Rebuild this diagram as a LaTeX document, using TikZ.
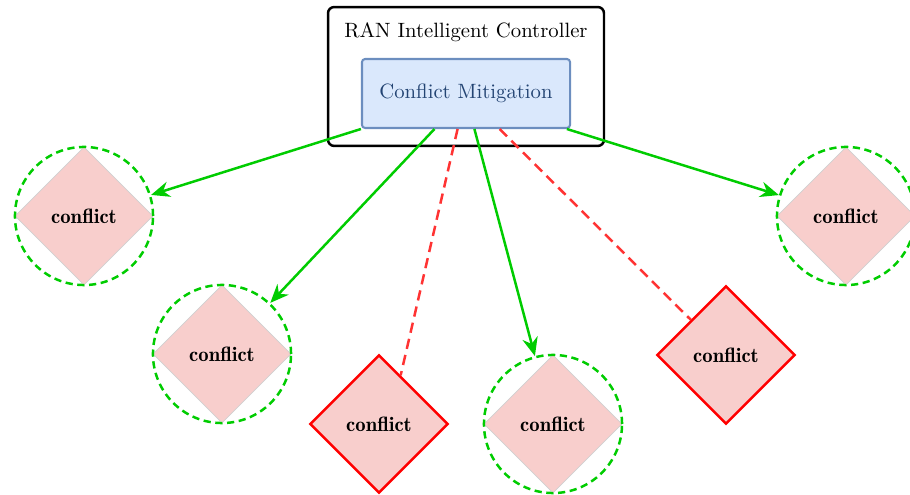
\documentclass[tikz,border=0pt]{standalone}
\usetikzlibrary{shapes.geometric,arrows.meta,calc}
\definecolor{okgreen}{RGB}{0,204,0}
\definecolor{linkred}{RGB}{255,51,51}
\definecolor{alertred}{RGB}{255,0,0}
\definecolor{pinkfill}{RGB}{248,206,204}
\definecolor{bluefill}{RGB}{218,232,252}
\definecolor{blueline}{RGB}{108,142,191}
\definecolor{bluetext}{RGB}{35,68,115}

\begin{document}
\begin{tikzpicture}[x=0.483pt,y=-0.483pt,
  conflictbox/.style={diamond, fill=pinkfill, minimum width=66.7pt, minimum height=66.7pt,
    inner sep=0pt, font=\fontseries{b}\selectfont},
  resolved/.style={conflictbox, draw=black!18, line width=0.4pt},
  unresolved/.style={conflictbox, draw=alertred, line width=1.2pt},
  guard/.style={circle, draw=okgreen, dash pattern=on 3.5pt off 2.2pt, line width=1.2pt,
    minimum size=66.7pt, inner sep=0pt},
  mitigate/.style={draw=okgreen, line width=1.2pt, -{Stealth[length=9pt,width=7.5pt]}},
  missed/.style={draw=linkred, line width=1.2pt, dash pattern=on 5pt off 3pt},
  ricbox/.style={draw=black, line width=1.2pt, rounded corners=3pt, minimum width=133.3pt,
    minimum height=67.1pt},
  mitbox/.style={draw=blueline, fill=bluefill, line width=1pt, rounded corners=1.5pt,
    minimum width=100.5pt, minimum height=33.3pt, text=bluetext},
]
\useasboundingbox (0,0) rectangle (910,495);

% controller frame and its title
\node[ricbox] (ric) at (466,76.5) {};
\node (title) at (466,32) {RAN Intelligent Controller};

% conflicts with their mitigation rings
\node[resolved] (d1) at (84,216) {conflict};
\node[guard] (c1) at (84,216) {};
\node[resolved] (d2) at (222,354) {conflict};
\node[guard] (c2) at (222,354) {};
\node[unresolved] (d3) at (379,424) {conflict};
\node[resolved] (d4) at (553,424) {conflict};
\node[guard] (c4) at (553,424) {};
\node[unresolved] (d5) at (726,355) {conflict};
\node[resolved] (d6) at (846,216) {conflict};
\node[guard] (c6) at (846,216) {};

% mitigation module
\node[mitbox] (cm) at (466,93.5) {Conflict Mitigation};

% exit points along the module's lower edge
\coordinate (s1) at ($(cm.south west)!0!(cm.south east)$);
\coordinate (s2) at ($(cm.south west)!0.35!(cm.south east)$);
\coordinate (s3) at ($(cm.south west)!0.46!(cm.south east)$);
\coordinate (s4) at ($(cm.south west)!0.54!(cm.south east)$);
\coordinate (s5) at ($(cm.south west)!0.66!(cm.south east)$);
\coordinate (s6) at ($(cm.south west)!0.98!(cm.south east)$);

\draw[mitigate] (s1) -- (c1);
\draw[mitigate] (s2) -- (c2);
\draw[missed] (s3) -- (d3.66);
\draw[mitigate] (s4) -- (c4);
\draw[missed] (s5) -- (d5.north west);
\draw[mitigate] (s6) -- (c6);
\end{tikzpicture}
\end{document}
